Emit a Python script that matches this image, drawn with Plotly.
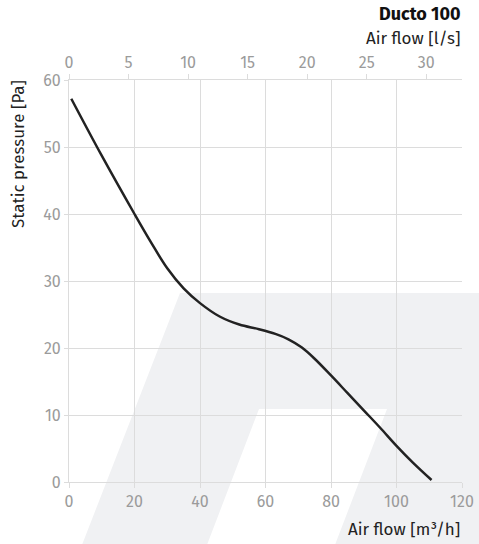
import plotly.graph_objects as go

# Data
airflow_m3h = [0.7, 10, 20, 25, 30, 35, 40, 46, 52, 58, 63, 67, 71, 75, 80, 85, 90, 95,
               100, 105, 110.7]
static_pressure_pa = [57.2, 48.7, 40.0, 35.8, 31.9, 28.9, 26.7, 24.7, 23.5, 22.8, 22.1, 21.3,
                      20.1, 18.4, 15.9, 13.3, 10.7, 8.1, 5.4, 2.9, 0.3]
x_ticks_m3h = [0, 20, 40, 60, 80, 100, 120]
x_ticks_ls = [0, 5, 10, 15, 20, 25, 30]
y_ticks_pa = [0, 10, 20, 30, 40, 50, 60]

W, H = 479, 544
L, R, T, B = 69, 462, 80, 482  # plot area in px

def px(xp):
    return (xp - L) / (R - L)

def py(yp):
    return (B - yp) / (B - T)

FONT = "Fira Sans, Noto Sans, Open Sans, sans-serif"
GRID = "#dcdcdc"
TICKC = "#9b9b9b"
TS = 16   # tick font size
AS = 17   # axis title size

fig = go.Figure()
fig.add_trace(go.Scatter(x=airflow_m3h, y=static_pressure_pa, mode="lines",
                         line=dict(color="#222222", width=2.5, shape="spline", smoothing=1.0),
                         hoverinfo="skip", showlegend=False))
# invisible trace for top axis
fig.add_trace(go.Scatter(x=[0], y=[0], xaxis="x2", mode="markers",
                         marker=dict(opacity=0), hoverinfo="skip", showlegend=False))

# watermark polygon (pixel coords -> paper)
poly = [(180, 293), (490, 293), (490, 550), (333, 550), (387, 409), (259, 409),
        (205, 550), (80, 550)]
path = "M " + " L ".join(f"{px(a):.4f},{py(b):.4f}" for a, b in poly) + " Z"

fig.update_layout(
    width=W, height=H,
    margin=dict(l=L, r=W - R, t=T, b=H - B, autoexpand=False),
    paper_bgcolor="white", plot_bgcolor="rgba(0,0,0,0)",
    font=dict(family=FONT, color=TICKC, size=TS),
    shapes=[dict(type="path", path=path, xref="paper", yref="paper",
                 fillcolor="#f0f1f3", line=dict(width=0), layer="below")],
    xaxis=dict(range=[0, 120], tickvals=x_ticks_m3h, showgrid=True, gridcolor=GRID,
               gridwidth=1, zeroline=False, showline=True, linecolor=GRID,
               ticks="outside", ticklen=5, tickcolor=GRID, automargin=False,
               tickfont=dict(color=TICKC, size=TS), fixedrange=True),
    xaxis2=dict(range=[0, 33], tickvals=x_ticks_ls, overlaying="x", side="top",
                showgrid=False, zeroline=False, showline=True, linecolor=GRID,
                ticks="outside", ticklen=5, tickcolor=GRID, automargin=False,
                tickfont=dict(color=TICKC, size=TS), fixedrange=True),
    yaxis=dict(range=[0, 60], tickvals=y_ticks_pa, showgrid=True, gridcolor=GRID,
               zeroline=False, showline=True, linecolor=GRID,
               ticks="outside", ticklen=4, tickcolor=GRID, automargin=False,
               tickfont=dict(color=TICKC, size=TS), fixedrange=True),
    annotations=[
        dict(text="<b>Ducto 100</b>", xref="paper", yref="paper", x=1, y=py(14),
             xanchor="right", yanchor="middle", showarrow=False,
             font=dict(family=FONT, size=18, color="#111111")),
        dict(text="Air flow [l/s]", xref="paper", yref="paper", x=1, y=py(39),
             xanchor="right", yanchor="middle", showarrow=False,
             font=dict(family=FONT, size=AS, color="#222222")),
        dict(text="Air flow [m³/h]", xref="paper", yref="paper", x=1, y=py(529),
             xanchor="right", yanchor="middle", showarrow=False,
             font=dict(family=FONT, size=AS, color="#222222")),
        dict(text="Static pressure [Pa]", xref="paper", yref="paper", x=px(18), y=py(154),
             xanchor="center", yanchor="middle", textangle=-90, showarrow=False,
             font=dict(family=FONT, size=AS, color="#222222")),
    ],
)

fig.write_html("out.html", config={"displayModeBar": False},
               post_script="document.body.style.margin='0';document.body.style.padding='0';")
